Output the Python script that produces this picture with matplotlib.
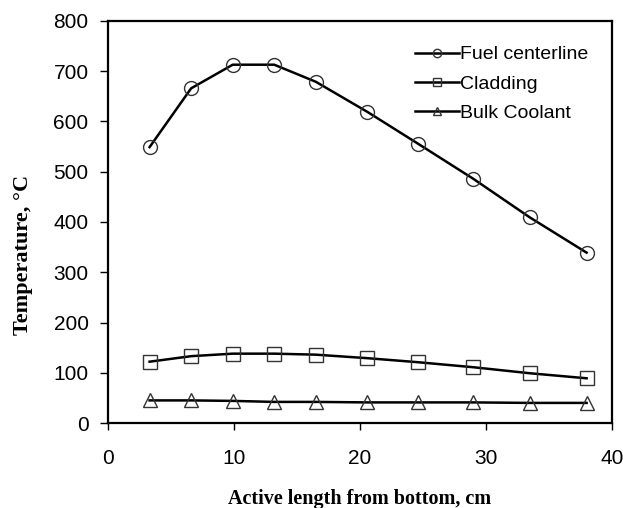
import matplotlib
matplotlib.use("Agg")
import matplotlib.pyplot as plt

# ----- DATA -----
length_cm = [3.3, 6.6, 9.9, 13.2, 16.5, 20.6, 24.6, 29.0, 33.5, 38.0]
fuel_centerline = [549, 666, 713, 713, 679, 619, 556, 486, 409, 339]
cladding = [122, 133, 138, 138, 136, 129, 121, 111, 99, 89]
bulk_coolant = [45, 45, 44, 42, 42, 41, 41, 41, 40, 40]

series_labels = ["Fuel centerline", "Cladding", "Bulk Coolant"]
x_ticks = [0, 10, 20, 30, 40]
y_ticks = [0, 100, 200, 300, 400, 500, 600, 700, 800]

# ----- PLOT -----
fig = plt.figure(figsize=(6.23, 5.08), dpi=100)
ax = fig.add_axes([0.1734, 0.1673, 0.8086, 0.7914])

style = dict(color="black", linewidth=1.8, markersize=10,
             markerfacecolor="none", markeredgecolor="#333333",
             markeredgewidth=1.0)
ax.plot(length_cm, fuel_centerline, marker="o", label=series_labels[0], **style)
ax.plot(length_cm, cladding, marker="s", label=series_labels[1], **style)
ax.plot(length_cm, bulk_coolant, marker="^", label=series_labels[2], **style)

ax.set_xlim(0, 40)
ax.set_ylim(0, 800)
ax.set_xticks(x_ticks)
ax.set_yticks(y_ticks)

for spine in ax.spines.values():
    spine.set_linewidth(1.6)

ax.tick_params(axis="x", direction="out", length=5, width=1, pad=14,
               labelsize=15, labelfontfamily="Liberation Sans")
ax.tick_params(axis="y", direction="out", length=6, width=1, pad=8,
               labelsize=15, labelfontfamily="Liberation Sans")

ax.set_xlabel("Active length from bottom, cm", fontfamily="Liberation Serif",
              fontweight="bold", fontsize=14.5)
ax.set_ylabel("Temperature, \u00b0C", fontfamily="Liberation Serif",
              fontweight="bold", fontsize=16)
ax.xaxis.set_label_coords(0.5, -0.164)
ax.yaxis.set_label_coords(-0.149, 0.418)

ax.legend(loc="upper left", bbox_to_anchor=(0.574, 0.982), frameon=False,
          prop={"family": "Liberation Sans", "size": 14}, markerscale=0.6,
          handlelength=2.27, handletextpad=0.05, labelspacing=0.6)

plt.savefig("out.png", dpi=100)
